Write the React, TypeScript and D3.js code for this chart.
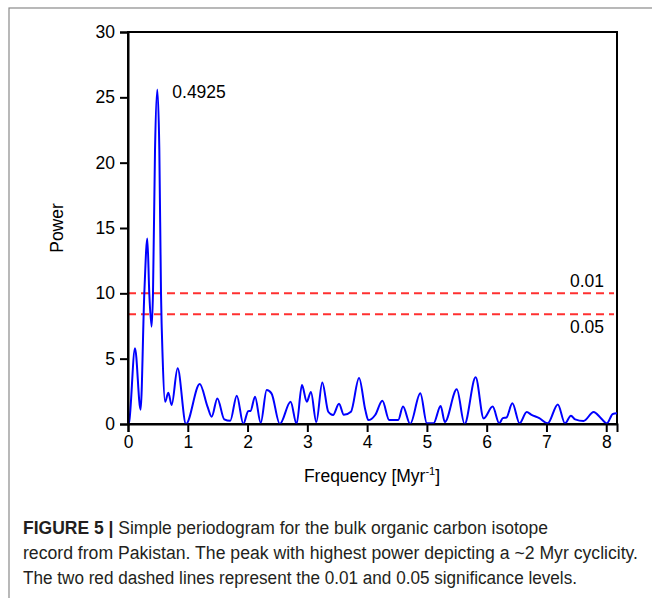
import React, { useEffect, useRef } from "react";
import * as d3 from "d3";

const freq = [0, 0.02, 0.117, 0.21, 0.273, 0.323, 0.356, 0.395, 0.418, 0.452, 0.49, 0.524, 0.552, 0.58, 0.62, 0.675, 0.73, 0.83, 0.97, 1.2, 1.33, 1.4, 1.495, 1.61, 1.71, 1.82, 1.93, 2.01, 2.05, 2.125, 2.22, 2.32, 2.4, 2.54, 2.72, 2.82, 2.91, 2.99, 3.06, 3.15, 3.25, 3.35, 3.43, 3.53, 3.61, 3.73, 3.865, 3.97, 4.02, 4.135, 4.255, 4.37, 4.52, 4.6, 4.72, 4.89, 5.0, 5.11, 5.23, 5.3, 5.5, 5.63, 5.815, 5.95, 6.1, 6.21, 6.27, 6.33, 6.43, 6.55, 6.67, 6.75, 6.88, 7.02, 7.19, 7.31, 7.41, 7.48, 7.62, 7.79, 7.9, 8.01, 8.11, 8.18];
const power = [0, 0.2, 5.8, 1.1, 10, 14.2, 10, 7.45, 10, 21, 25.6, 21, 10, 5, 1.7, 2.4, 1.45, 4.26, 0, 3.06, 1.33, 0.56, 1.96, 0.36, 0.25, 2.17, 0, 0.98, 1.0, 2.09, 0.08, 2.6, 2.35, 0, 1.7, 0, 2.98, 1.7, 2.45, 0.15, 3.18, 0.94, 0.69, 1.55, 0.7, 0.94, 3.52, 1.07, 0.3, 0.69, 1.78, 0.3, 0.3, 1.33, 0, 2.35, 0.05, 0.05, 1.38, 0.15, 2.65, 0, 3.57, 0.43, 1.33, 0.05, 0.45, 0.5, 1.58, 0.05, 0.92, 0.7, 0.45, 0.05, 1.5, 0.05, 0.64, 0.35, 0.23, 0.92, 0.5, 0.05, 0.77, 0.82];

const xTicks = [0, 1, 2, 3, 4, 5, 6, 7, 8];
const yTicks = [0, 5, 10, 15, 20, 25, 30];
const sigLevels = [10, 8.4];
const sigLabels = ["0.01", "0.05"];
const peakLabel = "0.4925";
const peakFreq = 0.49;
const peakPower = 25.6;

const captionBold = "FIGURE 5 |";
const captionLines = [
  " Simple periodogram for the bulk organic carbon isotope",
  "record from Pakistan. The peak with highest power depicting a ~2 Myr cyclicity.",
  "The two red dashed lines represent the 0.01 and 0.05 significance levels.",
];

export default function App() {
  const ref = useRef<SVGSVGElement>(null);
  useEffect(() => {
    const svg = d3.select(ref.current);
    svg.selectAll("*").remove();
    const font = "'Liberation Sans', Arial, Helvetica, sans-serif";
    const x = d3.scaleLinear().domain([0, 8.18]).range([128, 617]);
    const y = d3.scaleLinear().domain([0, 30]).range([424, 32]);

    // outer frame
    svg.append("rect").attr("x", 9).attr("y", 8).attr("width", 800).attr("height", 800)
      .attr("fill", "none").attr("stroke", "#8a8a8a").attr("stroke-width", 1.2);

    // plot box
    svg.append("rect").attr("x", 128).attr("y", 32).attr("width", 489).attr("height", 392)
      .attr("fill", "none").attr("stroke", "#000").attr("stroke-width", 2);

    // significance lines
    sigLevels.forEach((v) => {
      svg.append("line").attr("x1", x(0)).attr("x2", 614).attr("y1", y(v)).attr("y2", y(v))
        .attr("stroke", "#ff3030").attr("stroke-width", 2).attr("stroke-dasharray", "8,5");
    });

    const pts = freq.map((f, i) => [f, power[i]] as [number, number]);
    const line = d3.line<[number, number]>().x((d) => x(d[0])).y((d) => y(d[1])).curve(d3.curveMonotoneX);
    svg.append("path").attr("d", line(pts)).attr("fill", "none").attr("stroke", "#0000ff")
      .attr("stroke-width", 2).attr("stroke-linejoin", "round");

    const xAxis = svg.append("g").attr("transform", "translate(0,424)")
      .call(d3.axisBottom(x).tickValues(xTicks).tickSize(8).tickPadding(4).tickFormat(d3.format("d")));
    const yAxis = svg.append("g").attr("transform", "translate(128,0)")
      .call(d3.axisLeft(y).tickValues(yTicks).tickSize(8).tickPadding(5).tickFormat(d3.format("d")));
    [xAxis, yAxis].forEach((g) => {
      g.select(".domain").attr("stroke-width", 2);
      g.selectAll(".tick line").attr("stroke-width", 2);
      g.selectAll("text").attr("font-family", font).attr("font-size", 17.5).attr("fill", "#000");
    });

    svg.append("text").attr("x", x(peakFreq) + 15).attr("y", y(peakPower) + 4)
      .attr("font-family", font).attr("font-size", 17.5).attr("dominant-baseline", "middle").text(peakLabel);

    svg.append("text").attr("x", 604).attr("y", y(sigLevels[0]) - 6).attr("text-anchor", "end")
      .attr("font-family", font).attr("font-size", 17.5).text(sigLabels[0]);
    svg.append("text").attr("x", 604).attr("y", y(sigLevels[1]) + 14).attr("text-anchor", "end")
      .attr("font-family", font).attr("font-size", 17.5).attr("dominant-baseline", "middle").text(sigLabels[1]);

    // axis titles
    svg.append("text").attr("transform", "translate(63,228) rotate(-90)").attr("text-anchor", "middle")
      .attr("font-family", font).attr("font-size", 17.5).text("Power");
    const xt = svg.append("text").attr("x", 372).attr("y", 482).attr("text-anchor", "middle")
      .attr("font-family", font).attr("font-size", 17.5);
    xt.append("tspan").text("Frequency [Myr");
    xt.append("tspan").attr("dy", -7).attr("font-size", 11).text("-1");
    xt.append("tspan").attr("dy", 7).text("]");

    // caption
    const cap1 = svg.append("text").attr("x", 23).attr("y", 534).attr("font-family", font)
      .attr("font-size", 18).attr("fill", "#231f20").attr("textLength", 525).attr("lengthAdjust", "spacingAndGlyphs");
    cap1.append("tspan").attr("font-weight", "bold").text(captionBold);
    cap1.append("tspan").text(captionLines[0]);
    svg.append("text").attr("x", 23).attr("y", 559).attr("font-family", font).attr("font-size", 18)
      .attr("fill", "#231f20").attr("textLength", 615).attr("lengthAdjust", "spacingAndGlyphs").text(captionLines[1]);
    svg.append("text").attr("x", 23).attr("y", 584).attr("font-family", font).attr("font-size", 18)
      .attr("fill", "#231f20").attr("textLength", 554).attr("lengthAdjust", "spacingAndGlyphs").text(captionLines[2]);
  }, []);
  return (
    <svg ref={ref} width={652} height={598}
      style={{ position: "absolute", left: 0, top: 0, background: "#fff" }} />
  );
}
